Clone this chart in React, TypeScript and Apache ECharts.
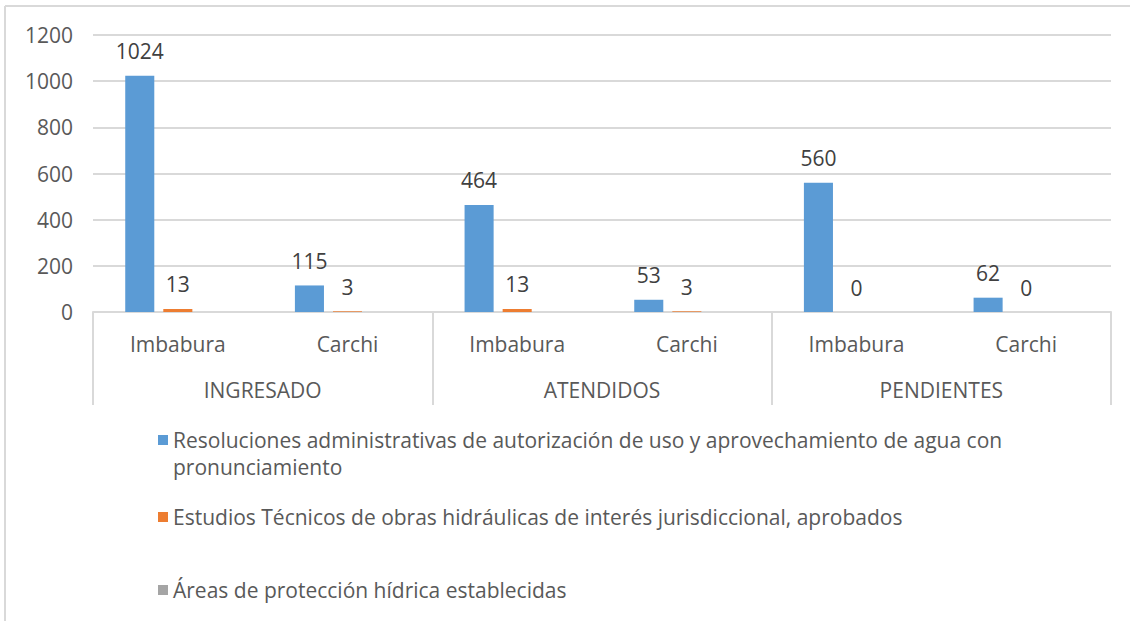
import React, { useEffect, useRef } from "react";
import * as echarts from "echarts";

const subCategories = ["Imbabura", "Carchi", "Imbabura", "Carchi", "Imbabura", "Carchi"];
const groups = ["INGRESADO", "ATENDIDOS", "PENDIENTES"];
const seriesNames = [
  "Resoluciones administrativas de autorización de uso y aprovechamiento de agua con pronunciamiento",
  "Estudios Técnicos de obras hidráulicas de interés jurisdiccional, aprobados",
  "Áreas de protección hídrica establecidas",
];
const legendFirstLine = "Resoluciones administrativas de autorización de uso y aprovechamiento de agua con";
const legendSecondLine = "pronunciamiento";
const resoluciones = [1024, 115, 464, 53, 560, 62];
const estudios = [13, 3, 13, 3, 0, 0];
const areas: (number | null)[] = [null, null, null, null, null, null];
const yTicks = { min: 0, max: 1200, interval: 200 };

const FONT = "Open Sans";
const TEXT = "#595959";
const LINE = "#d9d9d9";
const FS = 21;

export default function App() {
  const ref = useRef<HTMLDivElement>(null);
  useEffect(() => {
    if (!ref.current) return;
    const chart = echarts.init(ref.current, undefined, { renderer: "svg" });
    const labelCfg = {
      show: true,
      position: "top" as const,
      distance: 14,
      color: "#404040",
      fontSize: FS,
      fontFamily: FONT,
    };
    const legendBase = {
      orient: "vertical" as const,
      left: 158,
      padding: 0,
      itemWidth: 10,
      itemHeight: 10,
      icon: "rect",
      textStyle: { color: TEXT, fontSize: FS, fontFamily: FONT, lineHeight: 22 },
      selectedMode: false,
    };
    chart.setOption({
      animation: false,
      backgroundColor: "#ffffff",
      grid: { left: 93, right: 19, top: 35, bottom: 309, containLabel: false },
      xAxis: [
        {
          type: "category",
          data: subCategories,
          axisLine: { show: true, lineStyle: { color: LINE, width: 2 } },
          axisTick: { show: false },
          axisLabel: { color: TEXT, fontSize: FS, fontFamily: FONT, margin: 21, interval: 0 },
        },
        {
          type: "category",
          data: groups,
          position: "bottom",
          axisLine: { show: false },
          axisTick: { show: true, length: 93, lineStyle: { color: LINE, width: 2 } },
          axisLabel: { color: TEXT, fontSize: FS, fontFamily: FONT, margin: 67, interval: 0 },
        },
      ],
      yAxis: {
        type: "value",
        min: yTicks.min,
        max: yTicks.max,
        interval: yTicks.interval,
        axisLine: { show: false },
        axisTick: { show: false },
        splitLine: { lineStyle: { color: LINE, width: 2 } },
        axisLabel: {
          color: TEXT,
          fontSize: FS,
          fontFamily: FONT,
          margin: 20,
          formatter: (v: number) => String(v),
        },
      },
      legend: [
        {
          ...legendBase,
          top: 429,
          data: [seriesNames[0]],
          formatter: () => legendFirstLine,
        },
        { ...legendBase, top: 506, data: [seriesNames[1]] },
        { ...legendBase, top: 579, data: [seriesNames[2]] },
      ],
      graphic: [
        {
          type: "text",
          left: 173,
          top: 456,
          style: { text: legendSecondLine, fill: TEXT, fontSize: FS, fontFamily: FONT },
        },
        { type: "line", shape: { x1: 5, y1: 6, x2: 1130, y2: 6 }, style: { stroke: LINE, lineWidth: 2 } },
        { type: "line", shape: { x1: 5, y1: 6, x2: 5, y2: 621 }, style: { stroke: LINE, lineWidth: 2 } },
      ],
      series: [
        {
          name: seriesNames[0],
          type: "bar",
          data: resoluciones,
          itemStyle: { color: "#5B9BD5" },
          barGap: "31%",
          barCategoryGap: "38%",
          label: labelCfg,
        },
        {
          name: seriesNames[1],
          type: "bar",
          data: estudios,
          itemStyle: { color: "#ED7D31" },
          label: labelCfg,
        },
        {
          name: seriesNames[2],
          type: "bar",
          data: areas,
          itemStyle: { color: "#A5A5A5" },
          label: labelCfg,
        },
      ],
    });
    return () => chart.dispose();
  }, []);
  return (
    <div
      ref={ref}
      style={{ position: "fixed", left: 0, top: 0, width: 1130, height: 621, background: "#fff" }}
    />
  );
}
